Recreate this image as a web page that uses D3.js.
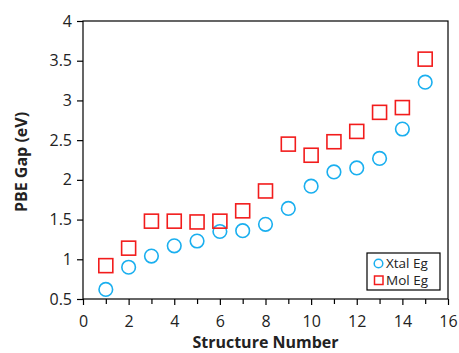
<!DOCTYPE html>
<html>
<head>
<meta charset="utf-8">
<script src="https://cdn.jsdelivr.net/npm/d3@7"></script>
<style>
  body { margin: 0; background: #fff; }
  svg text { font-family: "Open Sans", "Noto Sans", sans-serif; fill: #222; }
</style>
</head>
<body>
<svg id="chart" width="459" height="353"></svg>
<script>
// structure numbers and gaps
var structures = [1, 2, 3, 4, 5, 6, 7, 8, 9, 10, 11, 12, 13, 14, 15];
var xtalEg = [0.62, 0.90, 1.04, 1.17, 1.23, 1.35, 1.36, 1.44, 1.64, 1.92, 2.10, 2.15, 2.27, 2.64, 3.23];
var molEg = [0.92, 1.14, 1.48, 1.48, 1.47, 1.48, 1.61, 1.86, 2.45, 2.31, 2.48, 2.61, 2.85, 2.91, 3.52];
var xTicks = [0, 2, 4, 6, 8, 10, 12, 14, 16];
var xMinor = [1, 3, 5, 7, 9, 11, 13, 15];
var yTicks = [0.5, 1, 1.5, 2, 2.5, 3, 3.5, 4];

var svg = d3.select("#chart");
var margin = { top: 21, right: 11, bottom: 54, left: 83 };
var width = 459 - margin.left - margin.right;
var height = 353 - margin.top - margin.bottom;

var x = d3.scaleLinear().domain([0, 16]).range([0, width]);
var y = d3.scaleLinear().domain([0.5, 4]).range([height, 0]);

var g = svg.append("g")
  .attr("transform", "translate(" + margin.left + "," + margin.top + ")");

// frame
g.append("rect")
  .attr("width", width)
  .attr("height", height)
  .attr("fill", "none")
  .attr("stroke", "#000")
  .attr("stroke-width", 1.2);

var xAxis = d3.axisBottom(x).tickValues(xTicks).tickSize(6).tickPadding(11).tickFormat(d3.format("d"));
var xAxisMinor = d3.axisBottom(x).tickValues(xMinor).tickSize(5).tickFormat("");
var yAxis = d3.axisLeft(y).tickValues(yTicks).tickSize(6).tickPadding(5).tickFormat(function (d) { return d; });

g.append("g").attr("class", "axis")
  .attr("transform", "translate(0," + height + ")")
  .call(xAxisMinor);

g.append("g").attr("class", "axis")
  .attr("transform", "translate(0," + height + ")")
  .call(xAxis);

g.append("g").attr("class", "axis")
  .call(yAxis);

g.selectAll(".axis path").remove();
g.selectAll(".axis line").attr("stroke", "#000").attr("stroke-width", 1.2);
g.selectAll(".axis text").attr("font-size", 16).attr("fill", "#222")
  .style("font-family", "'Open Sans', 'Noto Sans', sans-serif");

// axis titles
svg.append("text")
  .attr("x", margin.left + width / 2)
  .attr("y", 348)
  .attr("text-anchor", "middle")
  .attr("font-size", 16)
  .attr("font-weight", "bold")
  .text("Structure Number");

svg.append("text")
  .attr("transform", "translate(21," + (margin.top + height / 2 + 2) + ") rotate(-90)")
  .attr("dy", "0.35em")
  .attr("text-anchor", "middle")
  .attr("font-size", 16)
  .attr("font-weight", "bold")
  .text("PBE Gap (eV)");

var blue = "#1AAFEF";
var red = "#F21C1C";

// Xtal Eg circles
g.selectAll(".xtal")
  .data(structures)
  .enter()
  .append("circle")
  .attr("class", "xtal")
  .attr("cx", function (d) { return x(d); })
  .attr("cy", function (d, i) { return y(xtalEg[i]); })
  .attr("r", 6.8)
  .attr("fill", "none")
  .attr("stroke", blue)
  .attr("stroke-width", 1.6);

// Mol Eg squares
var sq = 14;
g.selectAll(".mol")
  .data(structures)
  .enter()
  .append("rect")
  .attr("class", "mol")
  .attr("x", function (d) { return x(d) - sq / 2; })
  .attr("y", function (d, i) { return y(molEg[i]) - sq / 2; })
  .attr("width", sq)
  .attr("height", sq)
  .attr("fill", "none")
  .attr("stroke", red)
  .attr("stroke-width", 1.6);

// legend
var legend = svg.append("g").attr("transform", "translate(367,253)");
legend.append("rect")
  .attr("width", 73)
  .attr("height", 37)
  .attr("fill", "#fff")
  .attr("stroke", "#000")
  .attr("stroke-width", 1.2);

legend.append("circle")
  .attr("cx", 11.5).attr("cy", 10.5).attr("r", 4.3)
  .attr("fill", "none").attr("stroke", blue).attr("stroke-width", 1.5);
legend.append("text")
  .attr("x", 19).attr("y", 10.5).attr("dy", "0.35em")
  .attr("font-size", 13.5).text("Xtal Eg");

legend.append("rect")
  .attr("x", 7.5).attr("y", 23).attr("width", 8.5).attr("height", 8.5)
  .attr("fill", "none").attr("stroke", red).attr("stroke-width", 1.5);
legend.append("text")
  .attr("x", 19).attr("y", 27.5).attr("dy", "0.35em")
  .attr("font-size", 13.5).text("Mol Eg");
</script>
</body>
</html>
